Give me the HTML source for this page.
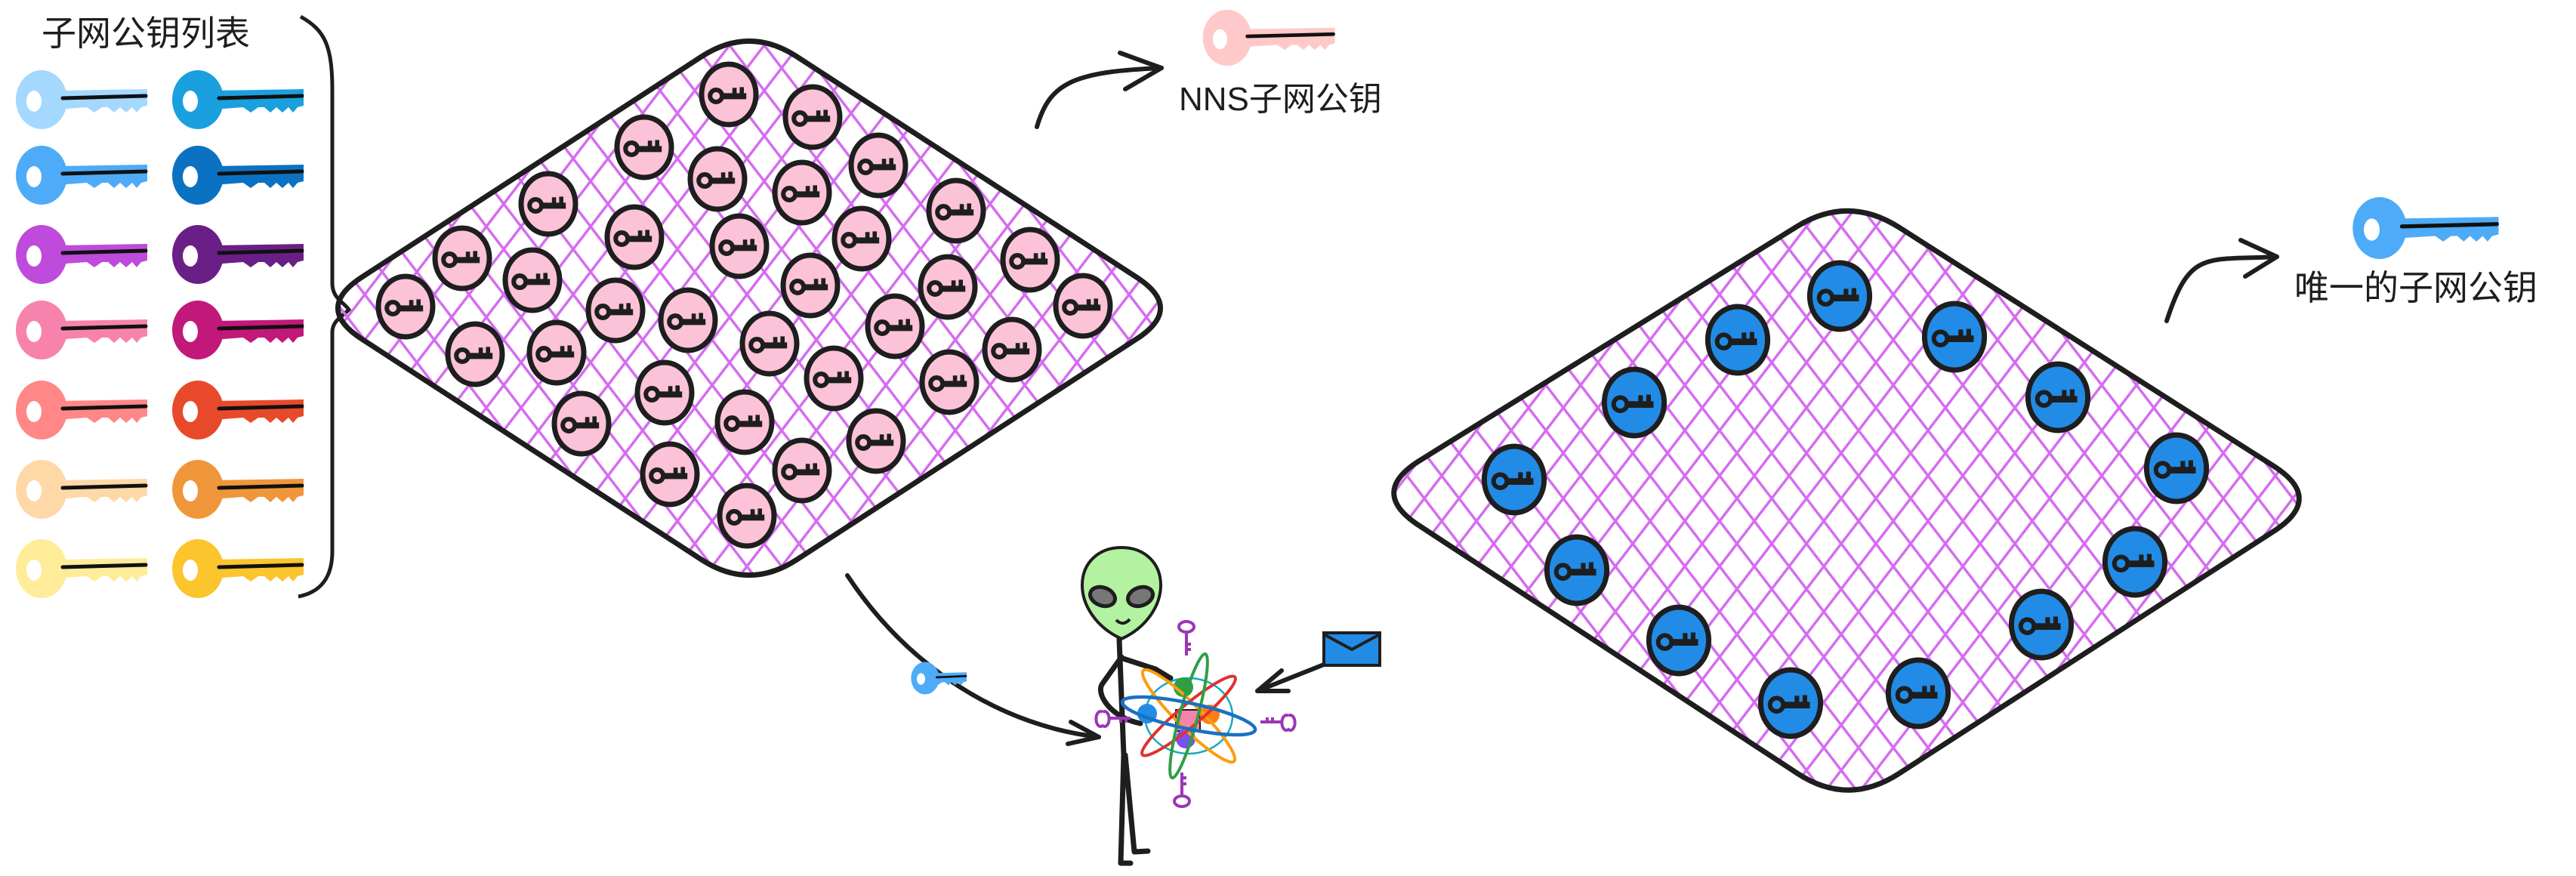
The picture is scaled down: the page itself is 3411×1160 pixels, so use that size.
<!DOCTYPE html>
<html><head><meta charset="utf-8">
<style>
html,body{margin:0;padding:0;background:#fff;}
svg{display:block;}
text{font-family:"Liberation Sans","Noto Sans CJK SC",sans-serif;fill:#1e1e1e;}
</style></head>
<body>
<svg id="c" width="3411" height="1160" viewBox="0 0 3411 1160" xmlns="http://www.w3.org/2000/svg">
<defs>
<pattern id="hatch" patternUnits="userSpaceOnUse" width="46" height="60">
<path d="M-10,13 L10,-13 M0,60 L46,0 M36,73 L56,47" stroke="#d56cf0" stroke-width="3.5"/>
<path d="M-10,47 L10,73 M0,0 L46,60 M36,-13 L56,13" stroke="#d56cf0" stroke-width="3.5"/>
</pattern>
</defs>
<g id="layer"></g>
<text x="55" y="60" font-size="46">子网公钥列表</text>
<text x="1561" y="146" font-size="44">NNS子网公钥</text>
<text x="3038" y="397" font-size="46">唯一的子网公钥</text>
</svg>
<script>
const NS='http://www.w3.org/2000/svg';
const layer=document.getElementById('layer');
function mk(tag,attrs,parent){const e=document.createElementNS(NS,tag);for(const k in attrs)e.setAttribute(k,attrs[k]);(parent||layer).appendChild(e);return e;}

const col1Colors=['#a5d8ff','#4dabf7','#be4bdb','#f783ac','#ff8787','#ffd8a8','#ffec99'];
const col2Colors=['#1aa0de','#0b72c2','#6a1f86','#c2187a','#e8492b','#f0963a','#fcc42d'];
const keyRowsY=[132,232,337,437,543,648,753];
const pinkNodesX=[965,1076,853,950,1062,1163,726,840,979,1141,1266,612,705,1073,1255,1364,537,815,911,1019,1185,1434,629,737,1340,1104,1257,880,770,986,1160,887,1062,989];
const pinkNodesY=[125,155,195,237,255,219,270,314,326,316,279,342,371,378,380,344,406,411,424,455,432,405,469,467,463,501,506,520,561,559,584,628,623,683];
const blueNodesX=[2436,2588,2301,2725,2164,2882,2005,2827,2088,2703,2223,2540,2371];
const blueNodesY=[392,446,450,526,533,620,635,744,755,827,848,918,931];

function flatKey(cx,cy,color,len,s,name){
  const g=mk('g',{transform:`translate(${cx},${cy}) scale(${s})`});
  
  
  mk('path',{d:`M20,-12 L${len},-14 L${len},8 L${len-8},10 L${len-14},17 L${len-20},10 L${len-28},17 L${len-36},10 L${len-44},17 L${len-52},10 L${len-60},10 L${len-70},17 L${len-80},10 L20,13 Z`,fill:color},g);
  mk('ellipse',{cx:0,cy:0,rx:34,ry:39,fill:color},g);
  mk('ellipse',{cx:-10,cy:2,rx:10,ry:14,fill:'#fff'},g);
  mk('line',{x1:28,y1:-2,x2:len-2,y2:-5,stroke:'#111',"stroke-width":5,"stroke-linecap":'round'},g);
  return g;
}
for(let i=0;i<keyRowsY.length;i++){
  flatKey(55,keyRowsY[i],col1Colors[i],140,1,'key-list-col1-'+(i+1));
  flatKey(262,keyRowsY[i],col2Colors[i],140,1,'key-list-col2-'+(i+1));
}

const br=mk('path',{d:'M398,22 C430,40 440,60 440,120 L440,375 C440,395 455,400 462,410 C452,420 440,425 440,440 L440,730 C440,770 420,785 395,790',fill:'none',stroke:'#1e1e1e',"stroke-width":5});



function diamond(pts,rad,name){
  let d='';
  const n=pts.length;
  for(let i=0;i<n;i++){
    const p=pts[i],a=pts[(i+n-1)%n],b=pts[(i+1)%n];
    const la=Math.hypot(a[0]-p[0],a[1]-p[1]),lb=Math.hypot(b[0]-p[0],b[1]-p[1]);
    const s=[p[0]+(a[0]-p[0])*rad/la,p[1]+(a[1]-p[1])*rad/la];
    const e=[p[0]+(b[0]-p[0])*rad/lb,p[1]+(b[1]-p[1])*rad/lb];
    d+=(i===0?'M':'L')+s[0]+','+s[1]+' Q'+p[0]+','+p[1]+' '+e[0]+','+e[1]+' ';
  }
  d+='Z';
  const p=mk('path',{d:d,fill:'url(#hatch)',stroke:'#1e1e1e',"stroke-width":7,"stroke-linejoin":'round'});
  
  
}
diamond([[992,34],[1568,408],[992,782],[416,408]],75,'nns-subnet-diamond');
diamond([[2447,258],[3078,660],[2447,1068],[1812,652]],80,'unique-subnet-diamond');

function nodeKey(cx,cy,fill,r,name){
  const g=mk('g',{transform:`translate(${cx},${cy})`});
  
  
  mk('ellipse',{cx:0,cy:0,rx:r*0.9,ry:r,fill:fill,stroke:'#1e1e1e',"stroke-width":7},g);
  mk('circle',{cx:-r*0.42,cy:r*0.05,r:r*0.2,fill:'none',stroke:'#1e1e1e',"stroke-width":6},g);
  mk('path',{d:`M${-r*0.24},${-r*0.04} L${r*0.58},${-r*0.04} L${r*0.58},${r*0.16} L${-r*0.24},${r*0.16} Z M${r*0.12},${-r*0.04} L${r*0.12},${-r*0.22} L${r*0.26},${-r*0.22} L${r*0.26},${-r*0.04} Z M${r*0.36},${-r*0.04} L${r*0.36},${-r*0.24} L${r*0.5},${-r*0.24} L${r*0.5},${-r*0.04} Z`,fill:'#1e1e1e'},g);
}
for(let i=0;i<pinkNodesX.length;i++) nodeKey(pinkNodesX[i],pinkNodesY[i],'#fcc2d7',40,'nns-node-key-'+(i+1));
for(let i=0;i<blueNodesX.length;i++) nodeKey(blueNodesX[i],blueNodesY[i],'#228be6',44,'unique-node-key-'+(i+1));

flatKey(1625,50,'#ffc9c9',150,0.95,'nns-key-icon');
flatKey(3151,302,'#4dabf7',150,1.05,'unique-key-icon');
function arrow(d,head,name){
  const g=mk('g',{});
  
  
  mk('path',{d:d,fill:'none',stroke:'#1e1e1e',"stroke-width":6,"stroke-linecap":'round'},g);
  mk('path',{d:head,fill:'none',stroke:'#1e1e1e',"stroke-width":6,"stroke-linecap":'round',"stroke-linejoin":'round'},g);
}
arrow('M1373,168 C1390,110 1420,95 1538,90','M1483,70 L1538,90 L1490,118','nns-arrow');
arrow('M2869,425 C2900,330 2920,345 3015,340','M2967,318 L3015,340 L2973,366','unique-arrow');
arrow('M1122,762 C1200,880 1320,960 1455,976','M1418,956 L1455,976 L1414,985','left-to-alien-arrow');
arrow('M1753,880 L1665,915','M1697,888 L1665,915 L1706,915','envelope-arrow');
flatKey(1225,898,'#4dabf7',100,0.55,'transit-key');

const env=mk('g',{});


mk('rect',{x:1753,y:838,width:74,height:43,fill:'#228be6',stroke:'#1e1e1e',"stroke-width":4},env);
mk('path',{d:'M1753,840 L1790,860 L1827,840',fill:'none',stroke:'#1e1e1e',"stroke-width":4},env);

const al=mk('g',{});


mk('path',{d:'M1485,846 C1450,830 1433,800 1433,775 C1433,745 1455,725 1485,725 C1515,725 1537,745 1537,775 C1537,800 1520,830 1485,846 Z',fill:'#b2f2a0',stroke:'#1e1e1e',"stroke-width":4},al);
mk('ellipse',{cx:1460,cy:790,rx:17,ry:12,fill:'#777',stroke:'#1e1e1e',"stroke-width":5,transform:'rotate(20 1460 790)'},al);
mk('ellipse',{cx:1510,cy:790,rx:17,ry:12,fill:'#777',stroke:'#1e1e1e',"stroke-width":5,transform:'rotate(-20 1510 790)'},al);
mk('path',{d:'M1478,821 Q1487,830 1496,820',fill:'none',stroke:'#1e1e1e',"stroke-width":4},al);
mk('path',{d:'M1482,846 L1488,1000 L1484,1143 L1497,1143 M1490,1000 L1502,1128 L1520,1127 M1485,870 L1460,905 C1450,918 1470,950 1510,958 M1487,872 L1530,886 L1550,898',fill:'none',stroke:'#1e1e1e',"stroke-width":7,"stroke-linecap":'round',"stroke-linejoin":'round'},al);

const at=mk('g',{});


const cx=1574,cy=948;
mk('ellipse',{cx:cx,cy:cy,rx:58,ry:50,fill:'none',stroke:'#15aabf',"stroke-width":2.5},at);
mk('rect',{x:cx-17,y:cy-8,width:32,height:28,fill:'#f783ac',stroke:'#1e1e1e',"stroke-width":2},at);
mk('circle',{cx:cx-7,cy:cy-38,r:13,fill:'#2f9e44'},at);
mk('circle',{cx:cx-55,cy:cy-3,r:13,fill:'#228be6'},at);
mk('circle',{cx:cx+28,cy:cy-2,r:13,fill:'#fd7e14'},at);
mk('circle',{cx:cx-4,cy:cy+30,r:13,fill:'#7950f2'},at);
mk('ellipse',{cx:cx,cy:cy,rx:85,ry:16,fill:'none',stroke:'#fd9d0a',"stroke-width":4,transform:`rotate(45 ${cx} ${cy})`},at);
mk('ellipse',{cx:cx,cy:cy,rx:80,ry:14,fill:'none',stroke:'#e03131',"stroke-width":4,transform:`rotate(-40 ${cx} ${cy})`},at);
mk('ellipse',{cx:cx,cy:cy,rx:85,ry:12,fill:'none',stroke:'#2f9e44',"stroke-width":4,transform:`rotate(-75 ${cx} ${cy})`},at);
mk('ellipse',{cx:cx,cy:cy,rx:90,ry:17,fill:'none',stroke:'#1971c2',"stroke-width":4.5,transform:`rotate(12 ${cx} ${cy})`},at);
mk('path',{d:`M${cx-3},${cy-80} l0,-30 m-10,-8 a10,7 0 1,0 20,0 a10,7 0 1,0 -20,0 M${cx-3},${cy-95} l6,0 M${cx-3},${cy-88} l6,0
M${cx-9},${cy+75} l0,30 m-10,8 a10,7 0 1,0 20,0 a10,7 0 1,0 -20,0 M${cx-9},${cy+82} l6,0 M${cx-9},${cy+90} l6,0
M${cx-77},${cy+3} l-30,0 m-7,-8 a6,10 0 1,0 0,18 a6,10 0 1,0 0,-18 M${cx-90},${cy+3} l0,6 M${cx-83},${cy+3} l0,6
M${cx+95},${cy+8} l30,0 m7,-8 a6,10 0 1,0 0,18 a6,10 0 1,0 0,-18 M${cx+104},${cy+8} l0,-6 M${cx+111},${cy+8} l0,-6`,fill:'none',stroke:'#9c36b5',"stroke-width":4},at);
</script>
</body></html>
